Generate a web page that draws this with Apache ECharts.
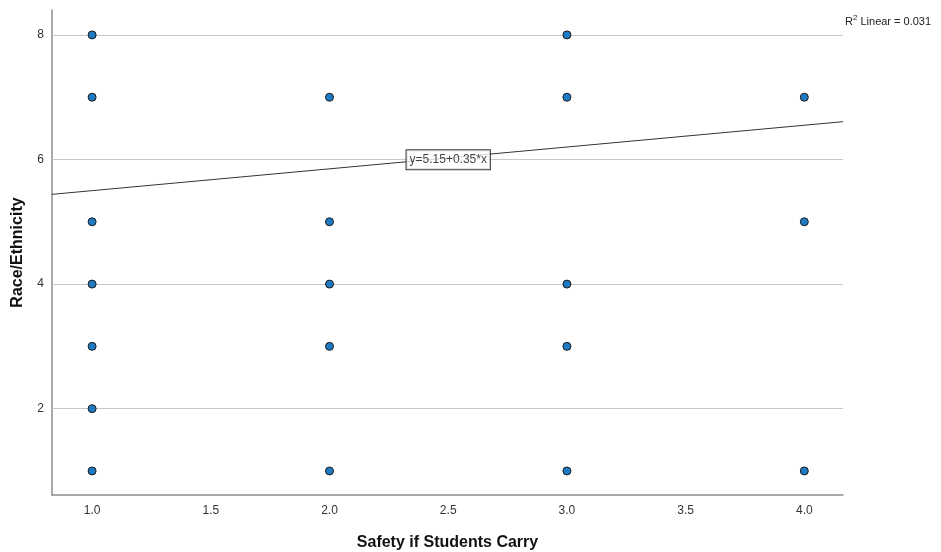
<!DOCTYPE html>
<html><head><meta charset="utf-8">
<script src="https://cdn.jsdelivr.net/npm/echarts@6/dist/echarts.min.js"></script>
<style>html,body{margin:0;padding:0;background:#fff}#c{width:941px;height:552px}</style>
</head><body><div id="c"></div>
<script>
var xValues = [1,1,1,1,1,1,1, 2,2,2,2,2, 3,3,3,3,3, 4,4,4];
var yValues = [8,7,5,4,3,2,1, 7,5,4,3,1, 8,7,4,3,1, 7,5,1];
var xTicks = [1.0,1.5,2.0,2.5,3.0,3.5,4.0];
var yTicks = [2,4,6,8];
var intercept = 5.15, slope = 0.35;
var r2Text = '0.031';
var xMin = 0.831, xMax = 4.163, yMin = 0.614, yMax = 8.4;

var pts = xValues.map(function(x,i){return [x, yValues[i]];});
var fitLine = [[xMin, intercept + slope*xMin],[xMax, intercept + slope*xMax]];
var font = 'Liberation Sans, Arial, sans-serif';

var chart = echarts.init(document.getElementById('c'));
chart.setOption({
  animation:false,
  textStyle:{fontFamily:font},
  grid:{left:52,right:98,top:10,bottom:57,outerBoundsMode:'none',containLabel:false},
  title:{
    text:'{a|R}{s|2}{a| Linear = ' + r2Text + '}',
    left:845, top:14, padding:0,
    textStyle:{fontWeight:'normal',rich:{a:{fontSize:11,color:'#222',fontWeight:'normal',fontFamily:font},s:{fontSize:8,color:'#222',fontWeight:'normal',verticalAlign:'top',padding:[0,0,7,0],fontFamily:font}}}
  },
  xAxis:{
    type:'value', min:xMin, max:xMax,
    name:'Safety if Students Carry', nameLocation:'middle', nameGap:40,
    nameTextStyle:{fontSize:16,fontWeight:'bold',color:'#111',fontFamily:font},
    axisLine:{show:true,lineStyle:{color:'#8c8c8c',width:1.5}},
    axisTick:{show:false},
    axisLabel:{customValues:xTicks,formatter:function(v){return v.toFixed(1);},fontSize:12,color:'#333',margin:10},
    splitLine:{show:false}
  },
  yAxis:{
    type:'value', min:yMin, max:yMax,
    name:'Race/Ethnicity', nameLocation:'middle', nameGap:26,
    nameTextStyle:{fontSize:16,fontWeight:'bold',color:'#111',fontFamily:font},
    axisLine:{show:true,lineStyle:{color:'#8c8c8c',width:1.5}},
    axisTick:{show:false},
    axisLabel:{customValues:yTicks,fontSize:12,color:'#333',margin:8},
    splitLine:{show:false}
  },
  series:[
    {type:'line', data:[], z:1, markLine:{silent:true,symbol:'none',z:1,label:{show:false},
      lineStyle:{color:'#c8c8c8',width:1.2,type:'solid'},
      data:yTicks.map(function(t){return {yAxis:t};})}},
    {type:'line', data:fitLine, symbol:'none', lineStyle:{color:'#333',width:1}, z:3},
    {type:'scatter', data:pts, symbol:'circle', symbolSize:8,
      itemStyle:{color:'#1f7ac4',borderColor:'#1a1a1a',borderWidth:1,opacity:1}, z:6},
    {type:'scatter', data:[[2.5, intercept + slope*2.5 - 0.03]], symbolSize:0, z:7,
      label:{show:true,position:'inside',formatter:'y=5.15+0.35*x',fontSize:12,color:'#111',
        backgroundColor:'#fff',borderColor:'#111',borderWidth:1,padding:[4,3,3,3],fontFamily:font}}
  ]
});
</script></body></html>
